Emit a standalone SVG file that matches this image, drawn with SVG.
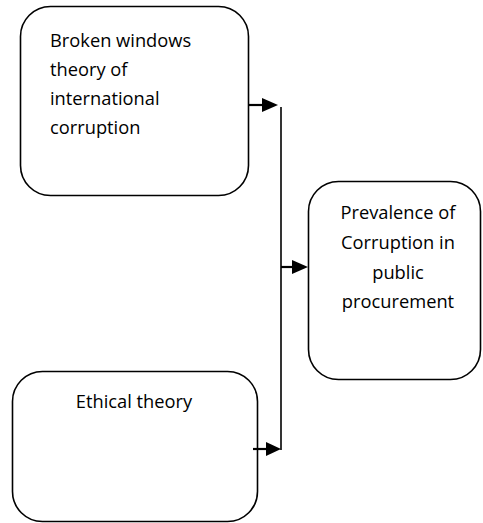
<svg xmlns="http://www.w3.org/2000/svg" width="483" height="523" viewBox="0 0 483 523">
<defs>
<style>
.box{fill:#fff;stroke:#000;stroke-width:1.6}
.t{font-family:"Open Sans","Liberation Sans",sans-serif;font-size:18.3px;fill:#000}
.c{stroke:#000;stroke-width:2.2;fill:none}
.ah{fill:#000}
</style>
</defs>
<g id="node-broken">
<rect class="box" x="20.5" y="6.5" width="228" height="189" rx="30" ry="30"/>
<text class="t" x="50" y="47">Broken windows</text>
<text class="t" x="50" y="76">theory of</text>
<text class="t" x="50" y="105">international</text>
<text class="t" x="50" y="134">corruption</text>
</g>
<g id="node-prevalence">
<rect class="box" x="308.5" y="181.5" width="172" height="198" rx="30" ry="30"/>
<text class="t" x="398" y="219" text-anchor="middle">Prevalence of</text>
<text class="t" x="398" y="249" text-anchor="middle">Corruption in</text>
<text class="t" x="398" y="279" text-anchor="middle">public</text>
<text class="t" x="398" y="308" text-anchor="middle">procurement</text>
</g>
<g id="node-ethical">
<rect class="box" x="12.5" y="371.5" width="245" height="150" rx="30" ry="30"/>
<text class="t" x="134" y="408" text-anchor="middle">Ethical theory</text>
</g>
<g id="connectors">
<line x1="281" y1="107" x2="281" y2="450" stroke="#000" stroke-width="1.6"/>
<line class="c" x1="249" y1="105" x2="263" y2="105"/>
<path class="ah" d="M262,98 L278,105 L262,112 Z"/>
<line class="c" x1="281" y1="267" x2="293" y2="267"/>
<path class="ah" d="M292,260 L308,267 L292,274 Z"/>
<line class="c" x1="253" y1="449" x2="267" y2="449"/>
<path class="ah" d="M266,442 L281,449 L266,456 Z"/>
</g>
</svg>
